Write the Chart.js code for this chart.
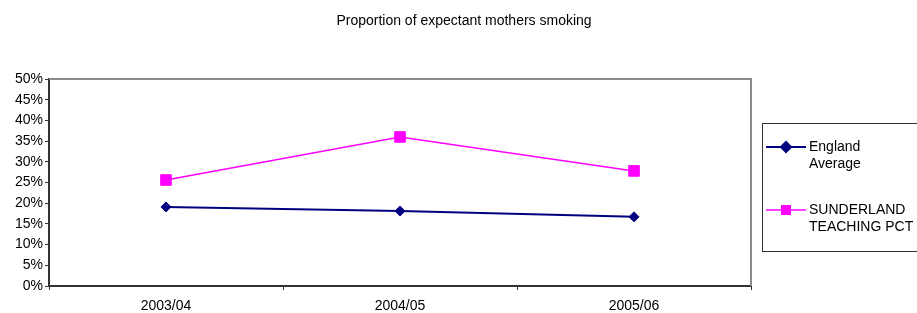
<!DOCTYPE html>
<html>
<head>
<meta charset="utf-8">
<script src="https://cdn.jsdelivr.net/npm/chart.js@4"></script>
<style>
  html, body { margin: 0; padding: 0; background: #fff; }
  #wrap { width: 917px; height: 313px; position: relative; }
</style>
</head>
<body>
<div id="wrap"><canvas id="grafico"></canvas></div>
<script>
// dados
const anos = ["2003/04", "2004/05", "2005/06"];
const england = [0.191, 0.181, 0.167];
const sunderland = [0.256, 0.360, 0.278];
const nomeEngland = ["England", "Average"];
const nomeSunderland = ["SUNDERLAND", "TEACHING PCT"];
const titulo = "Proportion of expectant mothers smoking";

const fonte = "Arial, 'Liberation Sans', sans-serif";
const tamFonte = 14;

// título, moldura do gráfico e legenda desenhados à mão
const extras = {
  id: "extras",
  beforeDatasetsDraw(chart) {
    const { ctx, chartArea: a } = chart;
    ctx.save();
    ctx.strokeStyle = "#8c8c8c";
    ctx.lineWidth = 2;
    ctx.beginPath();
    ctx.moveTo(a.left, a.top);
    ctx.lineTo(a.right, a.top);
    ctx.lineTo(a.right, a.bottom);
    ctx.stroke();
    ctx.restore();
  },
  afterDraw(chart) {
    const { ctx } = chart;
    ctx.save();
    ctx.fillStyle = "#000";
    ctx.font = tamFonte + "px " + fonte;
    ctx.textAlign = "center";
    ctx.textBaseline = "middle";
    ctx.fillText(titulo, 464, 21);

    // caixa da legenda
    ctx.strokeStyle = "#333";
    ctx.lineWidth = 1;
    ctx.strokeRect(762.5, 123.5, 170, 128);

    const itens = [
      { ds: chart.data.datasets[0], nome: nomeEngland, y: 147 },
      { ds: chart.data.datasets[1], nome: nomeSunderland, y: 210 },
    ];
    itens.forEach((it) => {
      ctx.strokeStyle = it.ds.borderColor;
      ctx.lineWidth = it.ds.borderWidth;
      ctx.beginPath();
      ctx.moveTo(766, it.y);
      ctx.lineTo(806, it.y);
      ctx.stroke();
      Chart.helpers.drawPoint(ctx, {
        pointStyle: it.ds.pointStyle,
        radius: it.ds.pointStyle === "rect" ? 6 : 5,
        borderWidth: 1,
      }, 786, it.y);
      ctx.fillStyle = it.ds.backgroundColor;
      ctx.fill();
      ctx.fillStyle = "#000";
      ctx.textAlign = "left";
      ctx.fillText(it.nome[0], 809, it.y);
      ctx.fillText(it.nome[1], 809, it.y + 17);
    });
    ctx.restore();
  },
};

new Chart(document.getElementById("grafico"), {
  type: "line",
  data: {
    labels: anos,
    datasets: [
      {
        label: nomeEngland.join(" "),
        data: england,
        borderColor: "#000080",
        backgroundColor: "#000080",
        borderWidth: 2,
        pointStyle: "rectRot",
        pointRadius: 5,
        pointBorderWidth: 1,
        tension: 0,
      },
      {
        label: nomeSunderland.join(" "),
        data: sunderland,
        borderColor: "#ff00ff",
        backgroundColor: "#ff00ff",
        borderWidth: 1.5,
        pointStyle: "rect",
        pointRadius: 7.5,
        pointBorderWidth: 1,
        tension: 0,
      },
    ],
  },
  options: {
    responsive: true,
    maintainAspectRatio: false,
    animation: false,
    layout: { padding: { top: 79, right: 166, left: 0, bottom: 0 } },
    scales: {
      x: {
        offset: true,
        grid: {
          offset: true,
          drawOnChartArea: false,
          drawTicks: true,
          tickLength: 4,
          color: "#333",
        },
        border: { color: "#333", width: 2 },
        ticks: { color: "#000", font: { family: fonte, size: tamFonte }, padding: 8, maxRotation: 0 },
        afterFit: (s) => { s.height = 27; },
      },
      y: {
        min: 0,
        max: 0.5,
        grid: {
          drawOnChartArea: false,
          drawTicks: true,
          tickLength: 4,
          color: "#333",
        },
        border: { color: "#333", width: 2 },
        ticks: {
          stepSize: 0.05,
          color: "#000",
          font: { family: fonte, size: tamFonte },
          padding: 2,
          callback: (v) => Math.round(v * 100) + "%",
        },
        afterFit: (s) => { s.width = 49; },
      },
    },
    plugins: {
      legend: { display: false },
      title: { display: false },
      tooltip: { enabled: false },
    },
  },
  plugins: [extras],
});
</script>
</body>
</html>
